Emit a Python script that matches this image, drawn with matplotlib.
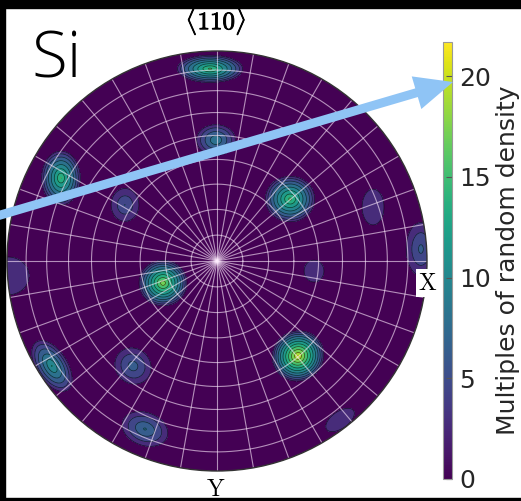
import numpy as np
import matplotlib
matplotlib.use('Agg')
import matplotlib.pyplot as plt
import matplotlib.patheffects as pe
from matplotlib.patches import Circle, Rectangle, FancyArrow
from matplotlib.colors import Normalize
from matplotlib.cm import ScalarMappable

plt.rcParams['mathtext.fontset'] = 'cm'

# ---- pole data (projected coords, radius 1 = 90 deg; x right, y up) ----
pole_x = [-0.033, -0.005, -0.743, -0.438, -0.257, 0.348, 0.743, 0.971, 0.462, -0.995,
          -0.786, -0.400, -0.343, 0.386, 0.586]
pole_y = [0.915, 0.576, 0.395, 0.267, -0.105, 0.295, 0.257, 0.057, -0.048, -0.071,
          -0.500, -0.500, -0.800, -0.452, -0.757]
pole_peak = [15.0, 9.0, 14.5, 5.5, 17.5, 15.0, 3.3, 6.0, 3.3, 3.3,
             11.0, 6.5, 7.5, 20.0, 3.3]
# half extents of the outermost contour (major / minor)
pole_half_a = [0.155, 0.092, 0.092, 0.066, 0.114, 0.117, 0.052, 0.070, 0.047, 0.100,
               0.136, 0.090, 0.112, 0.124, 0.078]
pole_half_b = [0.065, 0.073, 0.128, 0.078, 0.108, 0.108, 0.085, 0.126, 0.052, 0.090,
               0.073, 0.082, 0.078, 0.118, 0.040]
pole_angle = [0, 0, 0, 0, 0, 0, 0, 0, 0, 0, -57, -45, -20, 30, 35]

levels = [1.8, 3.6, 5.4, 7.2, 9.0, 10.8, 12.6, 14.4, 16.2, 18.0, 19.8, 21.6]
vmax = 21.7
cbar_ticks = [0, 5, 10, 15, 20]
grid_polar_deg = [10, 20, 30, 40, 50, 60, 70, 80]
grid_azimuth_deg = list(range(0, 360, 10))

# ---- density field (cone-like kernel) ----
P = 0.75
g = np.linspace(-1, 1, 600)
X, Y = np.meshgrid(g, g)
Z = np.zeros_like(X)
for x0, y0, pk, ha, hb, ang in zip(pole_x, pole_y, pole_peak, pole_half_a, pole_half_b, pole_angle):
    rho0 = 1 - (levels[0] / pk) ** (1 / P)
    a, b = ha / rho0, hb / rho0
    t = np.deg2rad(ang)
    u = (X - x0) * np.cos(t) + (Y - y0) * np.sin(t)
    v = -(X - x0) * np.sin(t) + (Y - y0) * np.cos(t)
    rho = np.sqrt((u / a) ** 2 + (v / b) ** 2)
    Z += pk * np.clip(1 - rho, 0, None) ** P

W, H = 521, 501
fig = plt.figure(figsize=(W / 100, H / 100), dpi=100)
fig.patch.set_facecolor('white')

cmap = plt.get_cmap('viridis')
norm = Normalize(0, vmax)

ax = fig.add_axes([7 / W, 30 / H, 420 / W, 420 / H])
ax.set_xlim(-1, 1)
ax.set_ylim(-1, 1)
ax.axis('off')

disk = Circle((0, 0), 1, facecolor=cmap(0.0), edgecolor='none', zorder=0)
ax.add_patch(disk)
cs = ax.contourf(X, Y, Z, levels=levels, cmap=cmap, norm=norm, zorder=1, extend='max')
cs.set_clip_path(disk)
cl = ax.contour(X, Y, Z, levels=levels, colors='black', linewidths=0.5, alpha=0.65, zorder=2)
cl.set_clip_path(disk)

# equal-area polar grid
gcol = (1, 0.93, 1, 0.6)
th = np.linspace(0, 2 * np.pi, 400)
for p in grid_polar_deg:
    r = np.sqrt(2) * np.sin(np.deg2rad(p) / 2)
    ax.plot(r * np.cos(th), r * np.sin(th), color=gcol, lw=0.8, zorder=3)
for a_ in grid_azimuth_deg:
    t = np.deg2rad(a_)
    ax.plot([0, np.cos(t)], [0, np.sin(t)], color=gcol, lw=0.8, zorder=3)

outline = Circle((0, 0), 1, facecolor='none', edgecolor='#333333', lw=1.0, zorder=4, clip_on=False)
ax.add_patch(outline)

# ---- colorbar ----
cax = fig.add_axes([443 / W, 22 / H, 9 / W, 437 / H])
sm = ScalarMappable(norm=norm, cmap=cmap)
cb = fig.colorbar(sm, cax=cax)
cb.set_ticks(cbar_ticks)
cb.ax.tick_params(direction='in', length=4, width=0.8, color='#555555',
                  labelsize=18, labelcolor='#262626', pad=5)
cb.outline.set_edgecolor('#999999')
cb.outline.set_linewidth(0.8)
fig.text(508 / W, 1 - 260 / H, 'Multiples of random density', rotation=90,
         ha='center', va='center', fontsize=18, color='#262626')

# ---- texts ----
fig.text(31 / W, 1 - 78 / H, 'Si', fontsize=47, family='Open Sans', weight='light',
         ha='left', va='baseline', color='black')
fig.text(216 / W, 1 - 20 / H, r'$\langle\mathbf{110}\rangle$', fontsize=18,
         ha='center', va='center',
         path_effects=[pe.withStroke(linewidth=0.6, foreground='black')])
fig.text(428 / W, 1 - 283 / H, r'$\mathrm{X}$', fontsize=17, ha='center', va='center',
         bbox=dict(facecolor='white', edgecolor='none', pad=1.5), zorder=6)
fig.text(216 / W, 1 - 489 / H, r'$\mathrm{Y}$', fontsize=17, ha='center', va='center')

# ---- overlay: black frame and arrow ----
ov = fig.add_axes([0, 0, 1, 1], zorder=10)
ov.set_xlim(0, W)
ov.set_ylim(H, 0)
ov.axis('off')
ov.patch.set_alpha(0)
ov.add_patch(Rectangle((0, 0), W, 8, color='black', zorder=1))
ov.add_patch(Rectangle((0, 0), 5, H, color='black', zorder=1))
ov.add_patch(Rectangle((0, 498), W, 3, color='black', zorder=1))
ov.add_patch(FancyArrow(-20, 221, 473, -139, width=9, head_width=34, head_length=38,
                        length_includes_head=True, color='#8fc4f5', lw=0, zorder=2))

fig.savefig('out.png', dpi=100)
